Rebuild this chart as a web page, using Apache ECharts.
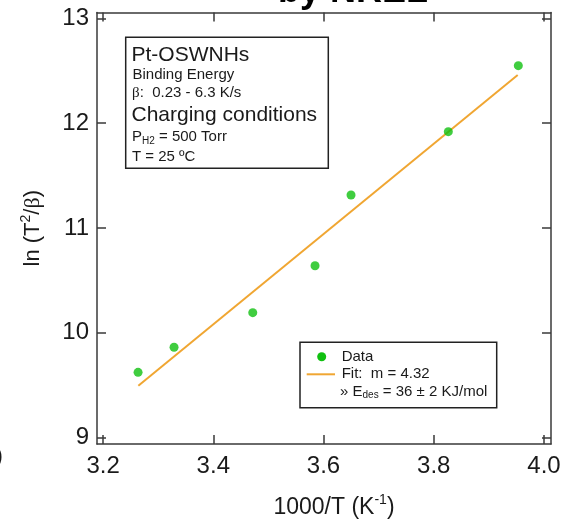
<!DOCTYPE html>
<html>
<head>
<meta charset="utf-8">
<script src="https://cdn.jsdelivr.net/npm/echarts@6/dist/echarts.min.js"></script>
<style>html,body{margin:0;padding:0;background:#fff}#c{width:561px;height:519px}</style>
</head>
<body>
<div id="c"></div>
<script>
const xData = [3.2635, 3.3288, 3.4716, 3.5846, 3.6499, 3.8264, 3.9534];
const yData = [9.622, 9.861, 10.191, 10.639, 11.314, 11.918, 12.548];
const fitX = [3.264, 3.9523];
const fitY = [9.494, 12.459];
const xTicks = [3.2, 3.4, 3.6, 3.8, 4.0];
const yTicks = [9, 10, 11, 12, 13];

const FONT = '"Liberation Sans", Arial, sans-serif';
const TXT = '#1a1a1a';
const AX = '#3a3a3a';
const GREEN = '#10c010';
const ORANGE = '#f0a632';

const chart = echarts.init(document.getElementById('c'), null, {renderer: 'canvas'});

const tickCommon = {inside: true, length: 9, lineStyle: {color: AX, width: 1.5}};
const lineCommon = {show: true, onZero: false, lineStyle: {color: AX, width: 1.5}};
const xRange = {min: 3.189, max: 4.0127};
const yRange = {min: 8.938, max: 13.055};

const option = {
  animation: false,
  backgroundColor: '#fff',
  textStyle: {fontFamily: FONT},
  grid: {left: 97, right: 10, top: 12.5, bottom: 75, containLabel: false, outerBoundsMode: 'none'},
  xAxis: [
    Object.assign({
      type: 'value', position: 'bottom',
      axisLine: lineCommon,
      axisTick: Object.assign({customValues: xTicks}, tickCommon),
      axisLabel: {customValues: xTicks, formatter: v => v.toFixed(1), fontSize: 24, color: TXT, margin: 10, fontFamily: FONT},
      splitLine: {show: false},
      name: '1000/T (K{sup|-1})',
      nameLocation: 'middle', nameGap: 49,
      nameTextStyle: {fontSize: 23, color: TXT, fontFamily: FONT, padding: [0, 0, 0, 20], lineHeight: 30,
        rich: {sup: {fontSize: 14, verticalAlign: 'top', lineHeight: 16, color: TXT, fontFamily: FONT}}}
    }, xRange),
    Object.assign({
      type: 'value', position: 'top',
      axisLine: lineCommon,
      axisTick: Object.assign({customValues: xTicks}, tickCommon),
      axisLabel: {show: false},
      splitLine: {show: false}
    }, xRange)
  ],
  yAxis: [
    Object.assign({
      type: 'value', position: 'left',
      axisLine: lineCommon,
      axisTick: Object.assign({customValues: yTicks}, tickCommon),
      axisLabel: {customValues: yTicks, fontSize: 24, color: TXT, margin: 8, fontFamily: FONT},
      splitLine: {show: false},
      name: 'ln (T{sup|2}/{beta|β})',
      nameLocation: 'middle', nameGap: 50, nameRotate: 90,
      nameTextStyle: {fontSize: 22, color: TXT, fontFamily: FONT, lineHeight: 28,
        rich: {sup: {fontSize: 14, verticalAlign: 'top', lineHeight: 14, color: TXT, fontFamily: FONT},
               beta: {fontSize: 22, color: TXT, fontFamily: '"Liberation Serif", serif'}}}
    }, yRange),
    Object.assign({
      type: 'value', position: 'right',
      axisLine: lineCommon,
      axisTick: Object.assign({customValues: yTicks}, tickCommon),
      axisLabel: {show: false},
      splitLine: {show: false}
    }, yRange)
  ],
  series: [
    {
      name: 'Fit', type: 'line', xAxisIndex: 0, yAxisIndex: 0,
      data: fitX.map((x, i) => [x, fitY[i]]),
      showSymbol: false, lineStyle: {color: ORANGE, width: 2}, z: 2
    },
    {
      name: 'Data', type: 'scatter', xAxisIndex: 0, yAxisIndex: 0,
      data: xData.map((x, i) => [x, yData[i]]),
      symbolSize: 9, itemStyle: {color: GREEN}, z: 3
    }
  ],
  graphic: [
    {type: 'text', style: {text: 'by NREL', x: 353, y: -8, align: 'center', verticalAlign: 'middle', font: 'bold 36px ' + FONT, fill: '#000'}},
    {type: 'text', style: {text: ')', x: -5, y: 456, verticalAlign: 'middle', font: '24px ' + FONT, fill: TXT}},
    // info box
    {type: 'rect', shape: {x: 125.7, y: 37.3, width: 202.6, height: 131}, style: {fill: '#fff', stroke: '#222', lineWidth: 1.5}, z: 10},
    {type: 'text', z: 11, style: {text: 'Pt-OSWNHs', x: 131.5, y: 55, verticalAlign: 'middle', font: '21px ' + FONT, fill: TXT}},
    {type: 'text', z: 11, style: {text: 'Binding Energy', x: 132.5, y: 75, verticalAlign: 'middle', font: '15px ' + FONT, fill: TXT}},
    {type: 'text', z: 11, style: {text: '{b|β}:  0.23 - 6.3 K/s', x: 132, y: 93, verticalAlign: 'middle', font: '15px ' + FONT, fill: TXT,
      rich: {b: {fontFamily: '"Liberation Serif", serif', fontSize: 15, fill: TXT}}}},
    {type: 'text', z: 11, style: {text: 'Charging conditions', x: 131.5, y: 115, verticalAlign: 'middle', font: '21px ' + FONT, fill: TXT}},
    {type: 'text', z: 11, style: {text: 'P{s|H2} = 500 Torr', x: 132, y: 137, verticalAlign: 'middle', font: '15px ' + FONT, fill: TXT, lineHeight: 18,
      rich: {s: {fontSize: 10, verticalAlign: 'bottom', lineHeight: 10, fontFamily: FONT, fill: TXT}}}},
    {type: 'text', z: 11, style: {text: 'T = 25 ºC', x: 132, y: 157, verticalAlign: 'middle', font: '15px ' + FONT, fill: TXT}},
    // legend box
    {type: 'rect', shape: {x: 300, y: 342.3, width: 196.7, height: 65.4}, style: {fill: '#fff', stroke: '#222', lineWidth: 1.5}, z: 10},
    {type: 'circle', shape: {cx: 321.7, cy: 356.7, r: 4.5}, style: {fill: GREEN}, z: 11},
    {type: 'line', shape: {x1: 306.7, y1: 374.3, x2: 335, y2: 374.3}, style: {stroke: ORANGE, lineWidth: 2}, z: 11},
    {type: 'text', z: 11, style: {text: 'Data', x: 341.7, y: 356.7, verticalAlign: 'middle', font: '15px ' + FONT, fill: TXT}},
    {type: 'text', z: 11, style: {text: 'Fit:  m = 4.32', x: 341.7, y: 374, verticalAlign: 'middle', font: '15px ' + FONT, fill: TXT}},
    {type: 'text', z: 11, style: {text: '» E{s|des} = 36 ± 2 KJ/mol', x: 340, y: 391.7, verticalAlign: 'middle', font: '15px ' + FONT, fill: TXT, lineHeight: 18,
      rich: {s: {fontSize: 10, verticalAlign: 'bottom', lineHeight: 10, fontFamily: FONT, fill: TXT}}}}
  ]
};
chart.setOption(option);
</script>
</body>
</html>
